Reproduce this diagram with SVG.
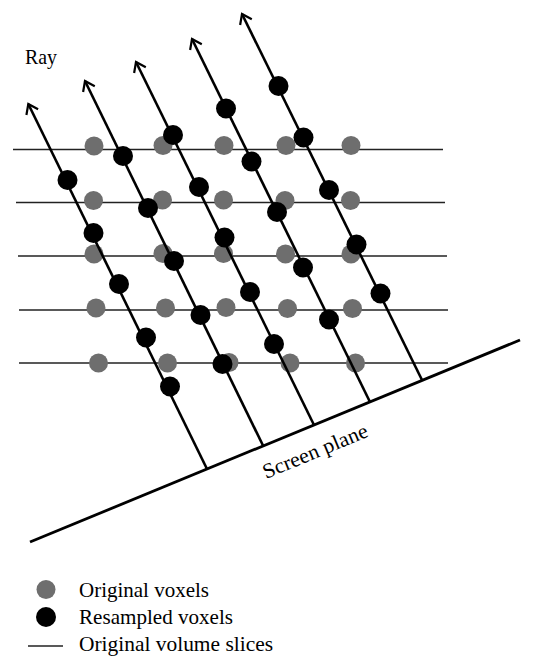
<svg xmlns="http://www.w3.org/2000/svg" width="534" height="671" viewBox="0 0 534 671">
<style>
.slice{stroke:#222;stroke-width:1.6;fill:none}
.ray{stroke:#000;stroke-width:2.6;fill:none}
.plane{stroke:#000;stroke-width:2.8;fill:none}
.orig{fill:#6e6e6e}
.res{fill:#000}
.lbl{font-family:"Liberation Serif","Times New Roman",serif;font-size:21px;fill:#000}
</style>
<defs>
<marker id="arr" markerUnits="userSpaceOnUse" markerWidth="24" markerHeight="24" refX="0" refY="0" viewBox="-12 -12 24 24" orient="auto" overflow="visible">
<path d="M-9,-6.5 L0,0 L-9,6.5" fill="none" stroke="#000" stroke-width="2.2"/>
</marker>
</defs>
<rect width="534" height="671" fill="#fff"/>
<g id="slices">
<line class="slice" x1="13" y1="149.5" x2="443" y2="149.5"/>
<line class="slice" x1="16" y1="202.5" x2="445" y2="202.5"/>
<line class="slice" x1="18" y1="256" x2="447" y2="256"/>
<line class="slice" x1="19" y1="310" x2="448" y2="310"/>
<line class="slice" x1="19" y1="363" x2="448" y2="363"/>
</g>
<g id="original-voxels">
<circle class="orig" cx="94" cy="146" r="9.5"/>
<circle class="orig" cx="163" cy="145.5" r="9.5"/>
<circle class="orig" cx="224" cy="145.5" r="9.5"/>
<circle class="orig" cx="286" cy="145.5" r="9.5"/>
<circle class="orig" cx="351" cy="145.5" r="9.5"/>
<circle class="orig" cx="93.5" cy="200.5" r="9.5"/>
<circle class="orig" cx="162.5" cy="200" r="9.5"/>
<circle class="orig" cx="223.5" cy="200" r="9.5"/>
<circle class="orig" cx="285" cy="200.5" r="9.5"/>
<circle class="orig" cx="350.5" cy="200.5" r="9.5"/>
<circle class="orig" cx="94" cy="254" r="9.5"/>
<circle class="orig" cx="163" cy="253.5" r="9.5"/>
<circle class="orig" cx="223.5" cy="253.5" r="9.5"/>
<circle class="orig" cx="285.5" cy="254" r="9.5"/>
<circle class="orig" cx="351" cy="254" r="9.5"/>
<circle class="orig" cx="96" cy="308" r="9.5"/>
<circle class="orig" cx="165.5" cy="308" r="9.5"/>
<circle class="orig" cx="226" cy="307.5" r="9.5"/>
<circle class="orig" cx="287.5" cy="308.5" r="9.5"/>
<circle class="orig" cx="352.5" cy="308.5" r="9.5"/>
<circle class="orig" cx="98.5" cy="363" r="9.5"/>
<circle class="orig" cx="167.5" cy="363" r="9.5"/>
<circle class="orig" cx="229" cy="362.5" r="9.5"/>
<circle class="orig" cx="290" cy="363" r="9.5"/>
<circle class="orig" cx="355.5" cy="363" r="9.5"/>
</g>
<g id="connectors">
<line id="plane" class="plane" x1="30" y1="542" x2="520" y2="340"/>
<line class="ray" x1="207" y1="469" x2="28.3" y2="104" marker-end="url(#arr)"/>
<line class="ray" x1="263" y1="445.5" x2="85" y2="81" marker-end="url(#arr)"/>
<line class="ray" x1="314" y1="425" x2="136" y2="62" marker-end="url(#arr)"/>
<line class="ray" x1="370" y1="402" x2="192" y2="39" marker-end="url(#arr)"/>
<line class="ray" x1="422" y1="380" x2="242" y2="14" marker-end="url(#arr)"/>
</g>
<g id="resampled-voxels">
<circle class="res" cx="67.5" cy="180" r="10"/>
<circle class="res" cx="93.5" cy="233" r="10"/>
<circle class="res" cx="119" cy="284" r="10"/>
<circle class="res" cx="146" cy="337.5" r="10"/>
<circle class="res" cx="170" cy="386.5" r="10"/>
<circle class="res" cx="123" cy="156" r="10"/>
<circle class="res" cx="148" cy="208" r="10"/>
<circle class="res" cx="174" cy="261" r="10"/>
<circle class="res" cx="200.5" cy="315" r="10"/>
<circle class="res" cx="222.5" cy="364" r="10"/>
<circle class="res" cx="173" cy="135" r="10"/>
<circle class="res" cx="199" cy="187" r="10"/>
<circle class="res" cx="224.5" cy="237.5" r="10"/>
<circle class="res" cx="250" cy="292" r="10"/>
<circle class="res" cx="274" cy="344" r="10"/>
<circle class="res" cx="226" cy="108.5" r="10"/>
<circle class="res" cx="251.5" cy="161.5" r="10"/>
<circle class="res" cx="277" cy="212" r="10"/>
<circle class="res" cx="303" cy="267.5" r="10"/>
<circle class="res" cx="329" cy="319.5" r="10"/>
<circle class="res" cx="278.5" cy="86" r="10"/>
<circle class="res" cx="303.5" cy="137.5" r="10"/>
<circle class="res" cx="329" cy="190" r="10"/>
<circle class="res" cx="356.5" cy="244.5" r="10"/>
<circle class="res" cx="380.5" cy="293.5" r="10"/>
</g>
<g id="labels">
<text class="lbl" x="25" y="64" textLength="32" lengthAdjust="spacingAndGlyphs">Ray</text>
<text class="lbl" x="266" y="479" transform="rotate(-22.5 266 479)" textLength="112" lengthAdjust="spacingAndGlyphs">Screen plane</text>
</g>
<g id="legend">
<circle class="orig" cx="46" cy="589.5" r="9.5"/>
<circle class="res" cx="46" cy="617" r="10"/>
<line class="slice" x1="28" y1="646" x2="63" y2="646"/>
<text class="lbl" x="79" y="597" textLength="130" lengthAdjust="spacingAndGlyphs">Original voxels</text>
<text class="lbl" x="79" y="624" textLength="154" lengthAdjust="spacingAndGlyphs">Resampled voxels</text>
<text class="lbl" x="79" y="651" textLength="194" lengthAdjust="spacingAndGlyphs">Original volume slices</text>
</g>
</svg>
